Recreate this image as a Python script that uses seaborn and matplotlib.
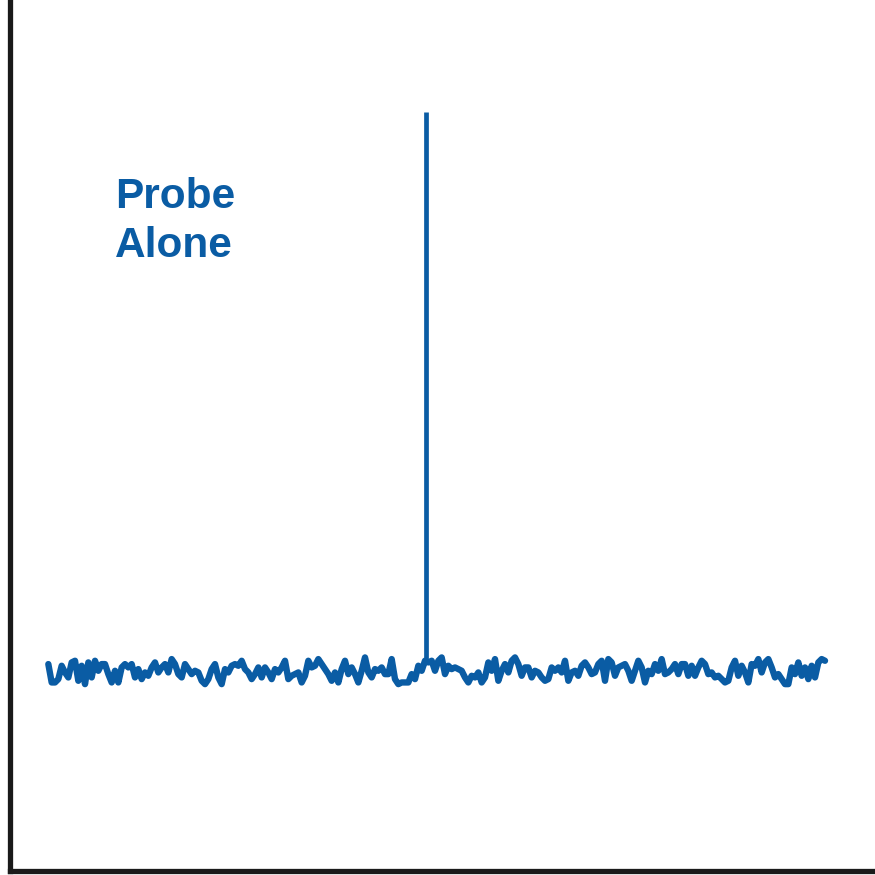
import numpy as np
import pandas as pd
import matplotlib
matplotlib.use("Agg")
import matplotlib.pyplot as plt
import seaborn as sns

# ---- data (signal in arbitrary units) ----
noise_part1 = [620, 565, 565, 575, 615, 595, 580, 625, 630, 570, 615, 560, 625, 580, 630, 600,
               620, 620, 590, 565, 600, 565, 610, 620, 610, 620, 580, 605, 575, 595, 585, 610,
               625, 595, 610, 620, 595, 635, 620, 590, 580, 620, 605, 590, 600, 595, 570, 560,
               575, 605, 620, 580, 560, 605, 595, 615, 620]
noise_part2 = [615, 630, 605, 595, 575, 590, 610, 580, 610, 595, 575, 605, 595, 610, 630, 575,
               585, 590, 595, 565, 585, 630, 610, 615, 635, 620, 605, 590, 570, 595, 565, 605,
               630, 590, 610, 590, 565, 600, 640, 595, 580, 605, 600, 610, 590, 590, 635, 575,
               560, 565, 565, 565, 590, 575, 615, 600, 630]
noise_part3 = [625, 630, 600, 630, 640, 590, 615, 605, 610, 605, 600, 580, 565, 585, 580, 595,
               565, 580, 625, 600, 635, 570, 600, 620, 595, 630, 640, 620, 585, 610, 610, 580,
               600, 595, 580, 570, 575, 610, 600, 610, 595, 630, 570, 595, 600, 585, 615, 625,
               610, 590, 595, 620, 630, 570, 635, 625, 585]
noise_part4 = [610, 615, 620, 600, 570, 600, 630, 610, 565, 600, 590, 620, 600, 635, 590, 595,
               605, 620, 590, 620, 620, 585, 615, 585, 610, 630, 620, 590, 595, 580, 585, 575,
               565, 570, 610, 630, 585, 615, 595, 565, 620, 615, 635, 595, 625, 635, 610, 580,
               590, 575, 560, 560, 610, 590, 625, 585, 610, 575, 615, 580, 625, 635, 630]
signal = noise_part1 + noise_part2 + noise_part3 + noise_part4
channel = list(range(len(signal)))

spike_channel = [113.3]
spike_peak = [2274]

label_text = "Probe\nAlone"

# ---- plotting ----
blue = "#0a5ca4"
sns.set_theme(style="white")
plt.rcParams['font.family'] = ['Liberation Sans', 'DejaVu Sans']

fig = plt.figure(figsize=(8.75, 8.75), dpi=100)
ax = fig.add_axes([10 / 875, 4 / 875, 1 - 10 / 875, 1 - 4 / 875])

df = pd.DataFrame({"channel": channel, "signal": signal})
sns.lineplot(data=df, x="channel", y="signal", ax=ax, color=blue, linewidth=4.6,
             solid_joinstyle="round", solid_capstyle="round")

base = [signal[int(c)] for c in spike_channel]
ax.vlines(spike_channel, base, spike_peak, color=blue, linewidth=3.4, capstyle="butt")

ax.set_xlim(-11.5, 248)
ax.set_ylim(0, 2610)
ax.set_xticks([])
ax.set_yticks([])
ax.set_xlabel("")
ax.set_ylabel("")
for side in ["top", "right"]:
    ax.spines[side].set_visible(False)
for side in ["left", "bottom"]:
    ax.spines[side].set_color("#1a1a1a")
    ax.spines[side].set_linewidth(3.8)

ax.text(0.121, 0.797, label_text, transform=ax.transAxes, color=blue, fontsize=30.5,
        fontweight="bold", ha="left", va="top", linespacing=1.3)

fig.savefig("out.png", dpi=100)
